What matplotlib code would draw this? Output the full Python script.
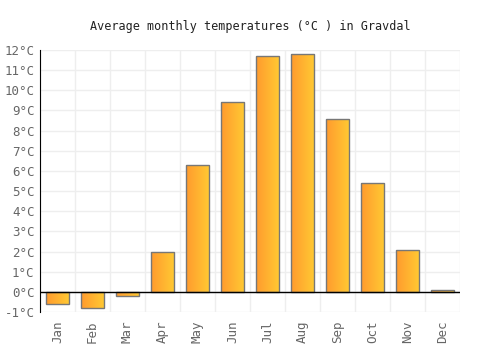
import matplotlib
matplotlib.use("Agg")
import matplotlib.pyplot as plt
import numpy as np
from matplotlib.colors import LinearSegmentedColormap

months = ["Jan", "Feb", "Mar", "Apr", "May", "Jun", "Jul", "Aug", "Sep", "Oct", "Nov", "Dec"]
temps = [-0.6, -0.8, -0.2, 2.0, 6.3, 9.4, 11.7, 11.8, 8.6, 5.4, 2.1, 0.1]
yticks = list(range(-1, 13))
ytick_labels = [f"{t}°C" for t in yticks]

plt.rcParams['font.family'] = ['DejaVu Sans Mono']

fig = plt.figure(figsize=(5, 3.5), dpi=100)
ax = fig.add_axes([0.08, 0.1086, 0.84, 0.7486])

x = np.arange(len(months))
bars = ax.bar(x, temps, width=0.68, facecolor='none', edgecolor='#777777', linewidth=1, zorder=3)

cmap = LinearSegmentedColormap.from_list('g', ['#ff9a2e', '#ffcb33'])
grad = np.linspace(0, 1, 256).reshape(1, -1)
for b in bars:
    bx, by = b.get_x(), b.get_y()
    bw, bh = b.get_width(), b.get_height()
    im = ax.imshow(grad, cmap=cmap, aspect='auto',
                   extent=[bx, bx + bw, by, by + bh], zorder=2)
    im.set_clip_path(b)

ax.set_xlim(-0.5, len(months) - 0.5)
ax.set_ylim(-1, 12)
ax.set_yticks(yticks)
ax.set_yticklabels(ytick_labels)
ax.set_xticks(x)
ax.set_xticklabels(months, rotation=90)
ax.set_xticks(np.arange(-0.5, len(months), 1), minor=True)
ax.grid(True, which='minor', axis='x', color='#eeeeee', linewidth=1, zorder=0)
ax.grid(True, which='major', axis='y', color='#eeeeee', linewidth=1, zorder=0)
ax.tick_params(axis='both', which='both', length=0, labelsize=9, colors='#666666')
ax.tick_params(axis='y', pad=4)
ax.tick_params(axis='x', pad=6)
for s in ['top', 'right', 'bottom']:
    ax.spines[s].set_visible(False)
ax.spines['left'].set_color('black')
ax.axhline(0, color='black', linewidth=1, zorder=4)

fig.suptitle("Average monthly temperatures (°C ) in Gravdal", y=0.942, fontsize=8.5, color='#222222')

fig.savefig("out.png", dpi=100)
